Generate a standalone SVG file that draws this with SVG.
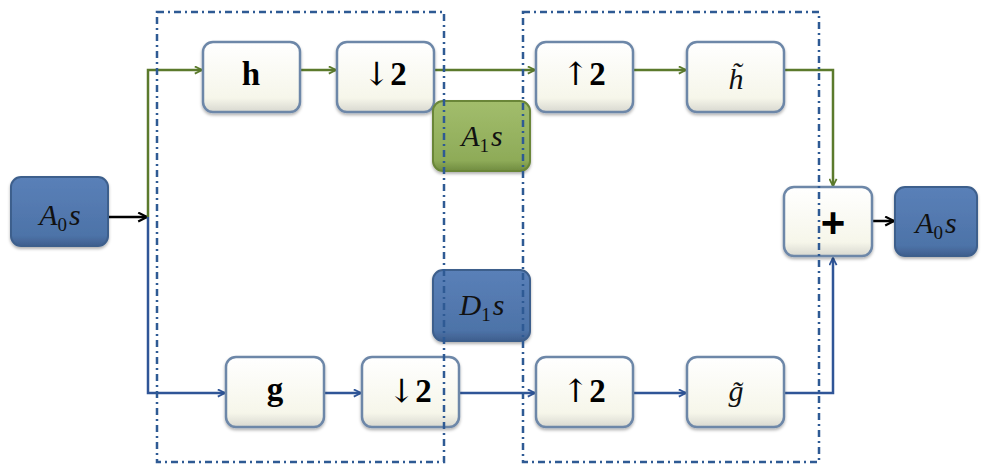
<svg xmlns="http://www.w3.org/2000/svg" width="984" height="464" viewBox="0 0 984 464">
<defs>
<linearGradient id="gw" x1="0" y1="0" x2="0" y2="1">
<stop offset="0" stop-color="#ffffff"/><stop offset="0.8" stop-color="#f6f6ea"/><stop offset="1" stop-color="#d8d8d0"/>
</linearGradient>
<linearGradient id="gb" x1="0" y1="0" x2="0" y2="1">
<stop offset="0" stop-color="#5a80b8"/><stop offset="0.85" stop-color="#4d73a8"/><stop offset="1" stop-color="#3f5f8e"/>
</linearGradient>
<linearGradient id="gg" x1="0" y1="0" x2="0" y2="1">
<stop offset="0" stop-color="#a2bd6c"/><stop offset="0.85" stop-color="#8eab58"/><stop offset="1" stop-color="#708c40"/>
</linearGradient>
<filter id="sh" x="-10%" y="-10%" width="120%" height="130%">
<feDropShadow dx="0" dy="2" stdDeviation="1.5" flood-color="#000" flood-opacity="0.3"/>
</filter>
<marker id="ag" viewBox="0 0 10 10" refX="9" refY="5" markerWidth="9" markerHeight="9" markerUnits="userSpaceOnUse" orient="auto"><path d="M1,1 L9,5 L1,9" fill="none" stroke="#5b7a2c" stroke-width="2"/></marker>
<marker id="ab" viewBox="0 0 10 10" refX="9" refY="5" markerWidth="9" markerHeight="9" markerUnits="userSpaceOnUse" orient="auto"><path d="M1,1 L9,5 L1,9" fill="none" stroke="#2f5597" stroke-width="2"/></marker>
<marker id="ak" viewBox="0 0 10 10" refX="9" refY="5" markerWidth="11" markerHeight="11" markerUnits="userSpaceOnUse" orient="auto"><path d="M1,1 L9,5 L1,9" fill="none" stroke="#000" stroke-width="2"/></marker>
</defs>
<style>
.w{fill:url(#gw);stroke:#6d87a8;stroke-width:2.5;filter:url(#sh)}
.b{fill:url(#gb);stroke:#3e5f8c;stroke-width:2;filter:url(#sh)}
.g{fill:url(#gg);stroke:#6a8638;stroke-width:2;filter:url(#sh)}
text{font-family:"Liberation Serif","Times New Roman",serif}
.t{font-size:33px;font-weight:bold;fill:#000;text-anchor:middle}
.i{font-size:30px;font-style:italic;fill:#111;text-anchor:middle}
.ar{font-weight:normal;font-family:"DejaVu Serif",serif;font-size:32px}
.sub{font-style:normal;font-size:19px}
.pl{font-family:"Liberation Sans","DejaVu Sans",sans-serif;font-size:42px}
.lg{fill:none;stroke:#5b7a2c;stroke-width:2.5}
.lb{fill:none;stroke:#2f5597;stroke-width:2.5}
.lk{fill:none;stroke:#000;stroke-width:2.5}
.dd{fill:none;stroke:#2e5a94;stroke-width:2.5;stroke-dasharray:7 4 2 4}
</style>
<rect width="984" height="464" fill="#ffffff"/>

<g id="connectors">
<path class="lk" d="M108,217 H147" marker-end="url(#ak)"/>
<path class="lg" d="M148,217 V70 H202" marker-end="url(#ag)"/>
<path class="lg" d="M300,70 H336" marker-end="url(#ag)"/>
<path class="lg" d="M434,70 H535" marker-end="url(#ag)"/>
<path class="lg" d="M633,70 H686" marker-end="url(#ag)"/>
<path class="lg" d="M778,70 H833 V186" marker-end="url(#ag)"/>
<path class="lb" d="M148,217 V393 H225" marker-end="url(#ab)"/>
<path class="lb" d="M324,393 H361" marker-end="url(#ab)"/>
<path class="lb" d="M459,393 H535" marker-end="url(#ab)"/>
<path class="lb" d="M633,393 H686" marker-end="url(#ab)"/>
<path class="lb" d="M778,393 H833 V258" marker-end="url(#ab)"/>
<path class="lk" d="M865,221 H894" marker-end="url(#ak)"/>
</g>

<g id="n-a0-in"><rect class="b" x="11" y="177" width="97" height="69" rx="10"/><text class="i" x="60" y="225">A<tspan class="sub" dy="6">0</tspan><tspan dy="-6" dx="2">s</tspan></text></g>
<g id="n-h"><rect class="w" x="203" y="42" width="97" height="70" rx="10"/><text class="t" x="251" y="85">h</text></g>
<g id="n-down-h"><rect class="w" x="337" y="42" width="97" height="70" rx="10"/><text class="t" x="385" y="85"><tspan class="ar">↓</tspan>2</text></g>
<g id="n-a1"><rect class="g" x="433" y="101" width="97" height="70" rx="10"/><text class="i" x="482" y="146">A<tspan class="sub" dy="6">1</tspan><tspan dy="-6" dx="2">s</tspan></text></g>
<g id="n-up-h"><rect class="w" x="536" y="42" width="97" height="70" rx="10"/><text class="t" x="584" y="85"><tspan class="ar">↑</tspan>2</text></g>
<g id="n-htilde"><rect class="w" x="687" y="42" width="97" height="70" rx="10"/><text class="i" x="736" y="89">h̃</text></g>
<g id="n-plus"><rect class="w" x="784" y="187" width="88" height="69" rx="10"/><text class="t pl" x="833" y="237">+</text></g>
<g id="n-a0-out"><rect class="b" x="895" y="187" width="82" height="69" rx="10"/><text class="i" x="936" y="233">A<tspan class="sub" dy="6">0</tspan><tspan dy="-6" dx="2">s</tspan></text></g>
<g id="n-d1"><rect class="b" x="433" y="270" width="97" height="71" rx="10"/><text class="i" x="482" y="315">D<tspan class="sub" dy="6">1</tspan><tspan dy="-6" dx="2">s</tspan></text></g>
<g id="n-g"><rect class="w" x="226" y="357" width="98" height="70" rx="10"/><text class="t" x="275" y="400">g</text></g>
<g id="n-down-g"><rect class="w" x="362" y="357" width="97" height="70" rx="10"/><text class="t" x="410" y="402"><tspan class="ar">↓</tspan>2</text></g>
<g id="n-up-g"><rect class="w" x="536" y="357" width="97" height="70" rx="10"/><text class="t" x="584" y="402"><tspan class="ar">↑</tspan>2</text></g>
<g id="n-gtilde"><rect class="w" x="687" y="357" width="97" height="70" rx="10"/><text class="i" x="736" y="401">g̃</text></g>

<g id="frames">
<rect class="dd" x="157" y="12" width="287" height="450"/>
<rect class="dd" x="523" y="12" width="296" height="450"/>
</g>
</svg>
